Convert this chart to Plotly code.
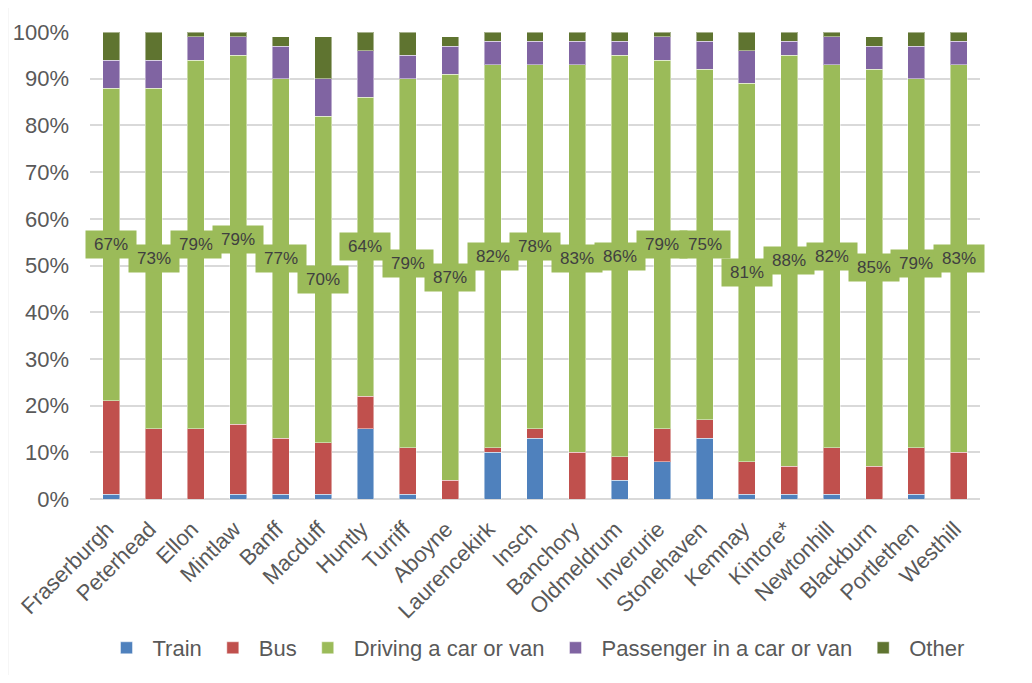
import plotly.graph_objects as go

towns = ["Fraserburgh", "Peterhead", "Ellon", "Mintlaw", "Banff", "Macduff", "Huntly",
         "Turriff", "Aboyne", "Laurencekirk", "Insch", "Banchory", "Oldmeldrum",
         "Inverurie", "Stonehaven", "Kemnay", "Kintore*", "Newtonhill", "Blackburn",
         "Portlethen", "Westhill"]
train = [1, 0, 0, 1, 1, 1, 15, 1, 0, 10, 13, 0, 4, 8, 13, 1, 1, 1, 0, 1, 0]
bus = [20, 15, 15, 15, 12, 11, 7, 10, 4, 1, 2, 10, 5, 7, 4, 7, 6, 10, 7, 10, 10]
driving = [67, 73, 79, 79, 77, 70, 64, 79, 87, 82, 78, 83, 86, 79, 75, 81, 88, 82, 85, 79, 83]
passenger = [6, 6, 5, 4, 7, 8, 10, 5, 6, 5, 5, 5, 3, 5, 6, 7, 3, 6, 5, 7, 5]
other = [6, 6, 1, 1, 2, 9, 4, 5, 2, 2, 2, 2, 2, 1, 2, 4, 2, 1, 2, 3, 2]

series = [
    ("Train", train, "#4F81BD"),
    ("Bus", bus, "#C0504D"),
    ("Driving a car or van", driving, "#9BBB59"),
    ("Passenger in a car or van", passenger, "#8064A2"),
    ("Other", other, "#5F7430"),
]

FONT = "Arial, Liberation Sans, sans-serif"

fig = go.Figure()
for name, vals, col in series:
    fig.add_trace(go.Bar(
        x=towns, y=[v / 100 for v in vals], name=name,
        marker=dict(color=col, line=dict(color="rgba(255,255,255,0.45)", width=1)),
        width=0.4, hoverinfo="x+y+name",
    ))

# data labels for the driving segment
for i, t in enumerate(towns):
    base = (train[i] + bus[i]) / 100
    mid = base + driving[i] / 200
    fig.add_annotation(
        x=t, y=mid, xref="x", yref="y", text=f"{driving[i]}%", showarrow=False,
        font=dict(family=FONT, size=17, color="#404040"),
        bgcolor="#9BBB59", width=50, height=27, borderpad=0,
    )

# chart area border
fig.add_shape(type="rect", xref="paper", yref="paper",
              x0=-0.0927, x1=1.1, y0=-0.5, y1=1.06,
              line=dict(color="#D9D9D9", width=1.5), fillcolor="rgba(0,0,0,0)", layer="below")

fig.update_layout(
    barmode="stack",
    width=1016, height=667,
    margin=dict(l=82, r=44, t=24, b=176, autoexpand=False),
    paper_bgcolor="white", plot_bgcolor="white",
    font=dict(family=FONT, size=22, color="#595959"),
    showlegend=True,
    legend=dict(orientation="h", x=0.5, xanchor="center", xref="paper",
                y=0.0405, yanchor="middle", yref="container",
                font=dict(family=FONT, size=22, color="#595959"), traceorder="normal",
                itemclick=False, itemwidth=42),
    xaxis=dict(tickangle=-45, showgrid=False, showline=False, ticks="",
               tickfont=dict(family=FONT, size=22, color="#595959"), range=[-0.5, 20.5],
               ticklabelstandoff=12, ticklabelshift=-4, automargin=False),
    yaxis=dict(range=[0, 1], tickformat=".0%", dtick=0.1, showgrid=True,
               gridcolor="#D9D9D9", gridwidth=1.5, zeroline=True, zerolinecolor="#D9D9D9",
               zerolinewidth=1.5, ticks="", tickfont=dict(family=FONT, size=22, color="#595959"),
               ticklabelstandoff=20, automargin=False),
)

fig.write_html("out.html")
